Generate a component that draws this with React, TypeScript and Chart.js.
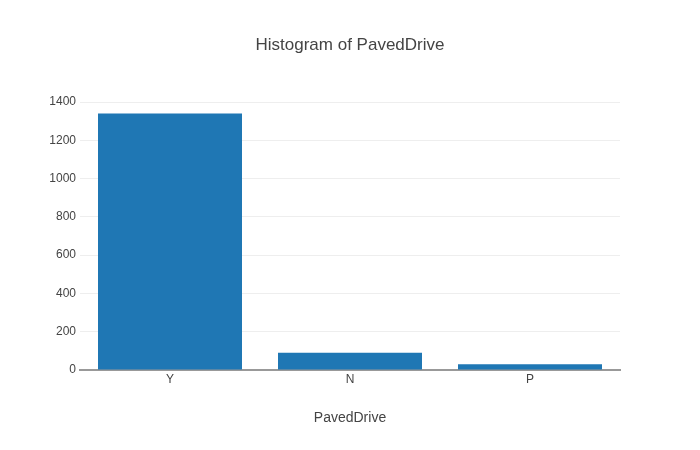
import React, { useEffect, useRef } from "react";
import { Chart, registerables } from "chart.js";

Chart.register(...registerables);

const categories = ["Y", "N", "P"];
const counts = [1340, 90, 30];
const yTicks = [0, 200, 400, 600, 800, 1000, 1200, 1400];

const FONT = "'Liberation Sans', Arial, sans-serif";

export default function App() {
  const canvasRef = useRef<HTMLCanvasElement | null>(null);
  const chartRef = useRef<Chart | null>(null);

  useEffect(() => {
    document.body.style.margin = "0";
    if (!canvasRef.current) return;
    const ctx = canvasRef.current.getContext("2d");
    if (!ctx) return;

    if (chartRef.current) chartRef.current.destroy();

    chartRef.current = new Chart(ctx, {
      type: "bar",
      data: {
        labels: categories,
        datasets: [
          {
            label: "count",
            data: counts,
            backgroundColor: "#1f77b4",
            barPercentage: 0.8,
            categoryPercentage: 1,
          },
        ],
      },
      options: {
        animation: false,
        responsive: false,
        layout: { padding: 0 },
        plugins: {
          legend: { display: false },
          tooltip: { enabled: false },
          title: {
            display: true,
            text: "Histogram of PavedDrive",
            color: "#444",
            font: { family: FONT, size: 17, weight: "normal", lineHeight: 1.2 },
            padding: { top: 35, bottom: 44.6 },
          },
        },
        scales: {
          x: {
            grid: { display: false, drawTicks: false },
            border: { display: true, color: "#999", width: 2 },
            ticks: {
              color: "#444",
              font: { family: FONT, size: 12 },
              padding: 2,
            },
            title: {
              display: true,
              text: "PavedDrive",
              color: "#444",
              font: { family: FONT, size: 14, lineHeight: 1.2 },
              padding: { top: 0, bottom: 23.6 },
            },
            afterFit: (scale: any) => {
              scale.height = 80;
            },
          },
          y: {
            min: 0,
            max: 1410.5,
            afterBuildTicks: (scale: any) => {
              scale.ticks = yTicks.map((v) => ({ value: v }));
            },
            grid: { color: "#eee", drawTicks: false },
            border: { display: false },
            ticks: {
              color: "#444",
              font: { family: FONT, size: 12 },
              padding: 4,
              callback: (v: any) => String(v),
            },
            afterFit: (scale: any) => {
              scale.width = 80;
            },
          },
          // empty right-hand margin so the title centres on the full width
          yRight: {
            position: "right",
            min: 0,
            max: 1410.5,
            grid: { display: false, drawTicks: false },
            border: { display: false },
            ticks: { display: false },
            afterFit: (scale: any) => {
              scale.width = 80;
            },
          },
        },
      },
    });

    return () => {
      if (chartRef.current) {
        chartRef.current.destroy();
        chartRef.current = null;
      }
    };
  }, []);

  return (
    <div style={{ width: 700, height: 450, background: "#fff" }}>
      <canvas ref={canvasRef} width={700} height={450} />
    </div>
  );
}
